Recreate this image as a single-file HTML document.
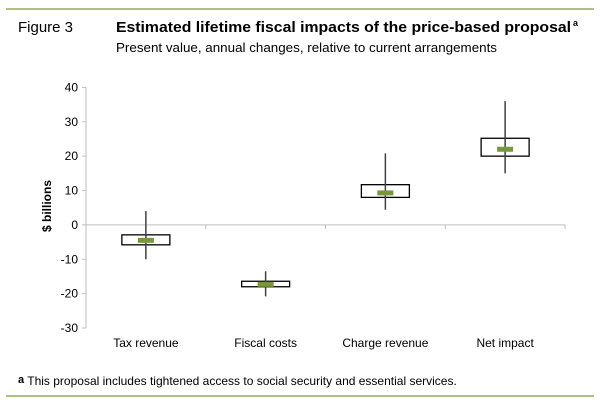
<!DOCTYPE html>
<html><head><meta charset="utf-8"><style>
body{margin:0;background:#fff;font-family:"Liberation Sans",Arial,sans-serif;}
#wrap{position:relative;width:600px;height:402px;overflow:hidden;}
</style></head><body>
<div id="wrap">
<svg width="600" height="402" id="chart">
<line x1="6" y1="9" x2="594" y2="9" stroke="#7d9a3c" stroke-width="1.2"/>
<text x="18" y="32" font-size="15" fill="#000">Figure 3</text>
<text x="116" y="32" font-size="15" font-weight="bold" fill="#000" textLength="455" lengthAdjust="spacingAndGlyphs">Estimated lifetime fiscal impacts of the price-based proposal</text>
<text x="573" y="26" font-size="9" font-weight="bold">a</text>
<text x="116" y="52" font-size="13" fill="#000" textLength="381" lengthAdjust="spacingAndGlyphs">Present value, annual changes, relative to current arrangements</text>
<text transform="translate(51,206) rotate(-90)" text-anchor="middle" font-size="12" font-weight="bold">$ billions</text>
<g id="plot"></g>
<text x="18" y="385" font-size="12"><tspan font-weight="bold" font-size="11" dy="-2">a</tspan><tspan dy="2"> This proposal includes tightened access to social security and essential services.</tspan></text>
<line x1="6" y1="396" x2="594" y2="396" stroke="#7d9a3c" stroke-width="1.2"/>
</svg>
</div>
<script>
const categories=["Tax revenue","Fiscal costs","Charge revenue","Net impact"];
const whiskerHigh=[4,-13.5,20.8,36];
const whiskerLow=[-10,-20.8,4.4,15];
const boxHigh=[-2.9,-16.4,11.7,25.2];
const boxLow=[-5.8,-18,8,20];
const medians=[-4.5,-17.3,9.3,22];
const yTicks=[40,30,20,10,0,-10,-20,-30];
const NS="http://www.w3.org/2000/svg";
const g=document.getElementById('plot');
const x0=86,x1=565,yTop=87.4,yBot=328,vMax=40,vMin=-30;
function y(v){return yTop+(vMax-v)/(vMax-vMin)*(yBot-yTop);}
const bw=(x1-x0)/categories.length;
function xc(i){return x0+bw*(i+0.5);}
function mk(tag,attrs){const e=document.createElementNS(NS,tag);for(const k in attrs)e.setAttribute(k,attrs[k]);g.appendChild(e);return e;}
let e=mk('line',{x1:x0,y1:yTop,x2:x0,y2:yBot,stroke:'#bfbfbf'});


yTicks.forEach(t=>{
  let l=mk('line',{x1:x0-4,y1:y(t),x2:x0,y2:y(t),stroke:'#bfbfbf'});
  
  
  let tx=mk('text',{x:x0-8,y:y(t)+4,'text-anchor':'end','font-size':12});
  tx.textContent=t;
  
  
});
e=mk('line',{x1:x0,y1:y(0),x2:x1,y2:y(0),stroke:'#bfbfbf'});


for(let i=0;i<=categories.length;i++){
  let l=mk('line',{x1:x0+bw*i,y1:y(0),x2:x0+bw*i,y2:y(0)+4,stroke:'#bfbfbf'});
  
  
}
categories.forEach((c,i)=>{
  const cx=xc(i);
  let b=mk('rect',{x:cx-24,y:y(boxHigh[i]),width:48,height:y(boxLow[i])-y(boxHigh[i]),fill:'#fff',stroke:'#000','stroke-width':1.3});
  
  
  let w=mk('line',{x1:cx,y1:y(whiskerHigh[i]),x2:cx,y2:y(whiskerLow[i]),stroke:'#404040','stroke-width':1.5});
  
  
  let m=mk('rect',{x:cx-8,y:y(medians[i])-2.5,width:16,height:5,fill:'#76983a'});
  
  
  let t=mk('text',{x:cx,y:347,'text-anchor':'middle','font-size':12});
  t.textContent=c;
  
  
});
</script>
</body></html>
